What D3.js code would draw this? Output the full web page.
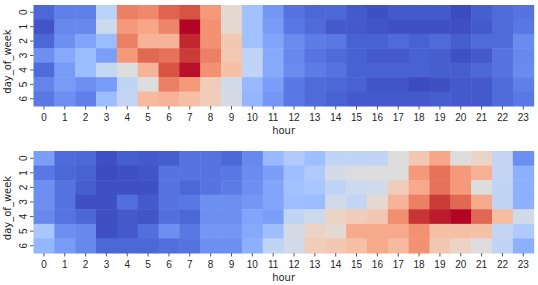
<!DOCTYPE html>
<html><head><meta charset="utf-8">
<script src="https://cdn.jsdelivr.net/npm/d3@7"></script>
<style>html,body{margin:0;padding:0;background:#fff;}svg{display:block;font-family:"DejaVu Sans",sans-serif;}</style>
</head><body>
<svg id="chart" width="538" height="285"></svg>
<script>
const hours = d3.range(24).map(String);
const days = ["0","1","2","3","4","5","6"];
const xLabel = "hour";
const yLabel = "day_of_week";

// top heatmap: rows = day_of_week 0..6, cols = hour 0..23
const top0 = [6,12,12,38,81,79,87,90,75,53,31,18, 9,6,6,3,1,3,3,3,0,4,7,9];
const top1 = [2,14,14,44,75,72,80,100,77,53,31,19, 10,7,3,3,2,1,1,1,1,3,7,10];
const top2 = [6,16,22,29,81,68,68,97,77,61,31,22, 15,11,10,5,5,7,5,7,4,7,7,15];
const top3 = [16,23,29,20,75,86,84,94,81,61,40,23, 14,9,7,5,3,3,5,4,1,3,9,14];
const top4 = [7,19,29,42,50,68,90,99,77,64,40,23, 15,11,9,5,5,5,5,4,4,6,9,15];
const top5 = [13,19,16,19,40,50,81,75,59,46,28,20, 10,7,6,5,2,2,0,1,3,3,7,12];
const top6 = [10,16,12,29,41,66,68,64,59,47,27,18, 10,7,5,3,3,3,3,4,3,3,7,10];

// bottom heatmap
const bot0 = [20,7,6,1,4,3, 4,9,9,6,14,28, 35,30,40,40,40,50,61,72,50,56,41,16];
const bot1 = [10,6,5,0,1,2, 9,9,9,10,15,20, 30,35,47,49,50,50,75,84,75,69,41,25];
const bot2 = [16,9,4,1,1,1, 9,6,9,11,16,22, 31,33,40,44,45,59,71,84,75,50,40,25];
const bot3 = [16,9,1,1,8,3, 9,10,16,16,18,22, 30,29,45,41,53,68,81,94,86,71,40,25];
const bot4 = [14,9,6,1,3,2, 8,6,16,16,22,20, 40,44,56,59,61,78,95,98,100,86,65,46];
const bot5 = [33,16,14,1,3,8, 16,10,18,18,23,30, 47,56,53,71,71,71,77,64,64,64,41,35];
const bot6 = [27,19,14,6,6,6, 8,9,16,16,25,40, 46,59,61,64,71,66,77,61,56,50,40,25];

const topRows = [top0,top1,top2,top3,top4,top5,top6];
const botRows = [bot0,bot1,bot2,bot3,bot4,bot5,bot6];

// matplotlib coolwarm (Moreland) anchors
const cw = [[59,76,192],[68,90,204],[77,104,215],[87,117,225],[98,130,234],[108,142,241],[119,154,247],[130,165,251],[141,176,254],[152,185,255],[163,194,255],[174,201,253],[184,208,249],[194,213,244],[204,217,238],[213,219,230],[221,221,221],[229,216,209],[236,211,197],[241,204,184],[245,196,172],[247,187,160],[247,177,148],[247,166,135],[244,154,123],[241,141,111],[236,127,99],[229,112,88],[222,96,77],[213,80,66],[203,62,56],[192,40,47],[180,4,38]];
const cwScale = d3.scaleLinear().domain(cw.map((_,i)=>i/(cw.length-1))).range(cw.map(c=>`rgb(${c[0]},${c[1]},${c[2]})`)).interpolate(d3.interpolateRgb).clamp(true);

const svg = d3.select("#chart");
const left = 33.5, right = 533.7;

function heatmap(rows, y0, y1) {
  const g = svg.append("g");
  const x = d3.scaleBand().domain(hours).range([left, right]);
  const y = d3.scaleBand().domain(days).range([y0, y1]);
  const all = rows.flat();
  const norm = d3.scaleLinear().domain(d3.extent(all)).range([0,1]);
  const cells = [];
  rows.forEach((r,i)=>r.forEach((v,j)=>cells.push({d:days[i],h:hours[j],v})));
  g.selectAll("rect").data(cells).join("rect")
    .attr("x", d=>x(d.h)).attr("y", d=>y(d.d))
    .attr("width", x.bandwidth()+0.5).attr("height", y.bandwidth()+0.5)
    .attr("fill", d=>cwScale(norm(d.v)));
  const xa = g.append("g").attr("transform",`translate(0,${y1})`)
    .call(d3.axisBottom(x).tickSize(3.5).tickPadding(4));
  xa.select(".domain").remove();
  xa.selectAll("line").attr("stroke","#333").attr("stroke-width",0.8);
  xa.selectAll("text").attr("font-size","10px").attr("fill","#262626");
  const ya = g.append("g").attr("transform",`translate(${left},0)`)
    .call(d3.axisLeft(y).tickSize(3.5).tickPadding(2));
  ya.select(".domain").remove();
  ya.selectAll("line").attr("stroke","#333").attr("stroke-width",0.8);
  ya.selectAll("text").attr("font-size","10px").attr("fill","#262626")
    .attr("text-anchor","middle").attr("x",null)
    .attr("transform","translate(-10.5,0) rotate(-90)").attr("dy","0.35em");
  g.append("text").attr("x",(left+right)/2).attr("y",y1+28)
    .attr("text-anchor","middle").attr("font-size","10px").attr("fill","#262626").text(xLabel);
  g.append("text").attr("transform",`translate(11,${(y0+y1)/2+6}) rotate(-90)`)
    .attr("text-anchor","middle").attr("font-size","10px").attr("fill","#262626").text(yLabel);
}
heatmap(topRows, 5, 106);
heatmap(botRows, 151, 253);
</script>
</body></html>
